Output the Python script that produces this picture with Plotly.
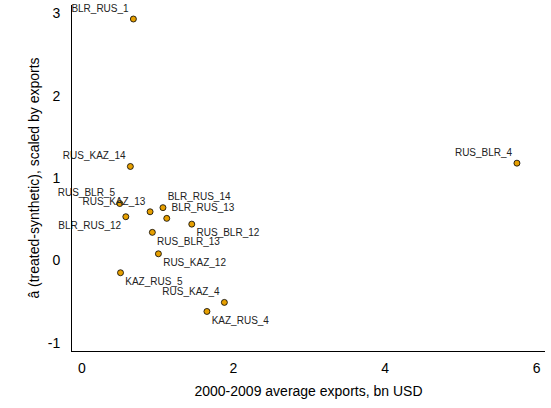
import plotly.graph_objects as go

# ---------- DATA ----------
labels = ["BLR_RUS_1", "RUS_KAZ_14", "RUS_BLR_4", "RUS_BLR_5", "RUS_KAZ_13",
          "BLR_RUS_14", "BLR_RUS_13", "BLR_RUS_12", "RUS_BLR_12", "RUS_BLR_13",
          "RUS_KAZ_12", "KAZ_RUS_5", "RUS_KAZ_4", "KAZ_RUS_4"]
exports = [0.68, 0.64, 5.74, 0.50, 0.90, 1.07, 1.12, 0.58, 1.45, 0.93,
           1.01, 0.51, 1.88, 1.65]
effect = [2.93, 1.14, 1.18, 0.69, 0.59, 0.64, 0.51, 0.53, 0.44, 0.34,
          0.08, -0.15, -0.51, -0.62]
positions = ["top left", "top left", "top left", "top left", "top left",
             "top right", "top right", "bottom left", "bottom right", "bottom right",
             "bottom right", "bottom right", "top left", "bottom right"]
x_ticks = [0, 2, 4, 6]
y_ticks = [-1, 0, 1, 2, 3]

fig = go.Figure(go.Scatter(
    x=exports, y=effect, mode="markers+text",
    text=labels, textposition=positions,
    textfont=dict(size=10, color="#222"),
    marker=dict(size=6, color="#E69F00", line=dict(color="black", width=0.8)),
    cliponaxis=False,
))

fig.update_layout(
    width=551, height=408,
    margin=dict(l=72, r=6, t=5, b=57, autoexpand=False),
    plot_bgcolor="white", paper_bgcolor="white",
    font=dict(family="Liberation Sans, Arial", size=14, color="black"),
    showlegend=False,
)
fig.update_xaxes(range=[-0.13, 6.11], tickvals=x_ticks, ticktext=[str(v) for v in x_ticks],
                 showgrid=False, zeroline=False, showline=True, linecolor="black",
                 ticklabelstandoff=4, automargin=False,
                 title=dict(text="2000-2009 average exports, bn USD", font=dict(size=14), standoff=11))
fig.update_yaxes(range=[-1.1, 3.1], tickvals=y_ticks, ticktext=[str(v) for v in y_ticks],
                 showgrid=False, zeroline=False, showline=True, linecolor="black",
                 ticklabelstandoff=8, automargin=False,
                 title=dict(text="â (treated-synthetic), scaled by exports", font=dict(size=14), standoff=4))

# page body has a default margin; drop it so the figure sits at the window's corner
fig.write_html("out.html", config={"displayModeBar": False},
               post_script="document.body.style.margin='0';")
